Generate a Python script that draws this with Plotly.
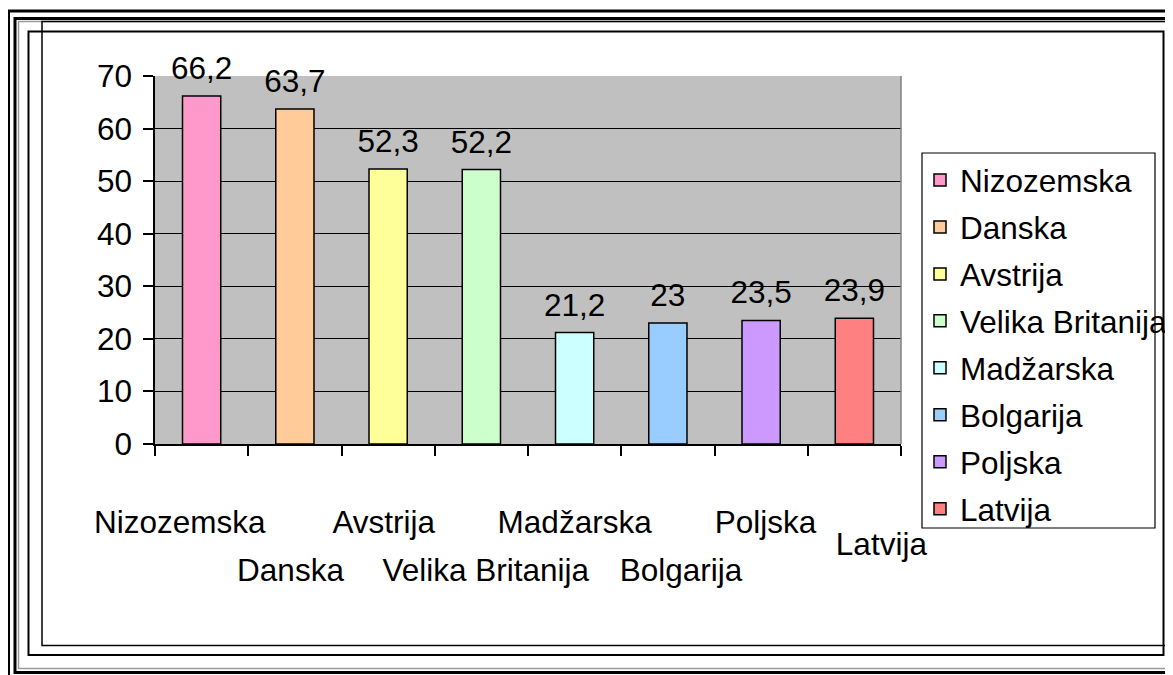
import plotly.graph_objects as go

countries = ["Nizozemska", "Danska", "Avstrija", "Velika Britanija",
             "Madžarska", "Bolgarija", "Poljska", "Latvija"]
values = [66.2, 63.7, 52.3, 52.2, 21.2, 23.0, 23.5, 23.9]
colors = ["#FF99CC", "#FFCC99", "#FFFF99", "#CCFFCC",
          "#CCFFFF", "#99CCFF", "#CC99FF", "#FF8080"]
row1 = ["Nizozemska", "Avstrija", "Madžarska", "Poljska"]
row2 = ["Danska", "Velika Britanija", "Bolgarija"]
row3 = ["Latvija"]
y_ticks = [0, 10, 20, 30, 40, 50, 60, 70]

# horizontal nudge of category labels (in no-break spaces; + right, - left)
label_nudge = {"Nizozemska": -5, "Danska": -1, "Avstrija": -1,
               "Velika Britanija": 1, "Madžarska": 0, "Bolgarija": 3,
               "Poljska": 1, "Latvija": 0}

FONT = "Liberation Sans, Arial, sans-serif"
FS = 31.5

# page offset (body margin) and figure size
OFF = 8
W, H = 1173 - OFF, 675 - OFF


def X(p):  # page pixel -> paper x
    return (p - OFF) / W


def Y(p):  # page pixel -> paper y
    return 1 - (p - OFF) / H


# plot area in page pixels
L, R, T, B = 155, 901, 76, 444

axis_of = {}
for c in row1:
    axis_of[c] = "x"
for c in row2:
    axis_of[c] = "x2"
for c in row3:
    axis_of[c] = "x3"


def nudged(c):
    n = label_nudge.get(c, 0)
    pad = "\u00a0" * abs(n)
    return pad + c if n > 0 else c + pad


fig = go.Figure()
for c, v, col in zip(countries, values, colors):
    fig.add_trace(go.Bar(
        x=[c], y=[v], name=c, legendgroup=c, xaxis=axis_of[c], yaxis="y",
        marker=dict(color=col, line=dict(color="black", width=1.5)),
        width=0.41, hoverinfo="skip",
    ))

fig.add_trace(go.Scatter(
    x=countries, y=values, mode="markers+text",
    text=[("%g" % v).replace(".", ",") for v in values],
    textposition="top center", cliponaxis=False, showlegend=False,
    marker=dict(size=13, color="rgba(0,0,0,0)", line=dict(width=0)),
    textfont=dict(family=FONT, size=FS, color="black"), hoverinfo="skip",
))

shapes = []


def rect(x0, y0, x1, y1, color="black", width=1.5):
    shapes.append(dict(type="rect", xref="paper", yref="paper",
                       x0=X(x0), x1=X(x1), y0=Y(y0), y1=Y(y1),
                       line=dict(color=color, width=width), layer="above"))


# frames
rect(8.5, 11, 1250, 720, width=3)
rect(15, 18.5, 1250, 672.5, width=3)
rect(18.5, 21.5, 1250, 668.5, color="#9a9a9a", width=1.5)
rect(42, 21.5, 1250, 645.5, width=1.5)
rect(28.5, 31.5, 1163.5, 655, width=2)
# legend box
rect(922, 153, 1155, 528, width=1.2)
# plot area right border
shapes.append(dict(type="line", xref="paper", yref="paper",
                   x0=X(R), x1=X(R), y0=Y(B), y1=Y(T),
                   line=dict(color="#808080", width=1.5), layer="above"))

lab_font = dict(family=FONT, size=FS, color="black")
rng = [-0.5, len(countries) - 0.5]


def label_axis(rows, standoff, shift=0):
    return dict(type="category", categoryorder="array", categoryarray=countries,
                overlaying="x", anchor="y", side="bottom", range=rng,
                tickangle=0, showline=False, ticks="", showgrid=False,
                zeroline=False, tickvals=rows,
                ticktext=[nudged(c) for c in rows],
                ticklabelstandoff=standoff, ticklabelshift=shift,
                tickfont=lab_font)


fig.update_layout(
    width=W, height=H,
    margin=dict(l=0, r=0, t=0, b=0, pad=0, autoexpand=False),
    paper_bgcolor="white", plot_bgcolor="#C0C0C0",
    barmode="overlay",
    font=dict(family=FONT, size=FS, color="black"),
    showlegend=True,
    legend=dict(x=X(920), y=Y(153), xanchor="left", yanchor="top",
                bgcolor="rgba(0,0,0,0)", borderwidth=0, font=lab_font,
                tracegroupgap=3, itemclick=False, itemdoubleclick=False),
    shapes=shapes,
    xaxis=dict(type="category", categoryorder="array", categoryarray=countries,
               domain=[X(L), X(R)], range=rng,
               showline=True, linecolor="black", linewidth=1.5,
               ticks="outside", ticklen=10, tickcolor="black", tickwidth=1.5,
               tickson="boundaries", showgrid=False, zeroline=False,
               tickvals=countries, tickangle=0,
               ticktext=[nudged(c) if c in row1 else "" for c in countries],
               ticklabelstandoff=49, tickfont=lab_font),
    xaxis2=label_axis(row2, 104),
    xaxis3=label_axis(row3, 78, shift=27),
    yaxis=dict(domain=[Y(B), Y(T)], range=[0, 70], tickvals=y_ticks,
               showline=True, linecolor="black", linewidth=1.5,
               ticks="outside", ticklen=10, tickcolor="black", tickwidth=1.5,
               showgrid=True, gridcolor="black", gridwidth=1,
               zeroline=False, ticklabelstandoff=5, tickfont=lab_font),
)

fig.write_html("out.html")
